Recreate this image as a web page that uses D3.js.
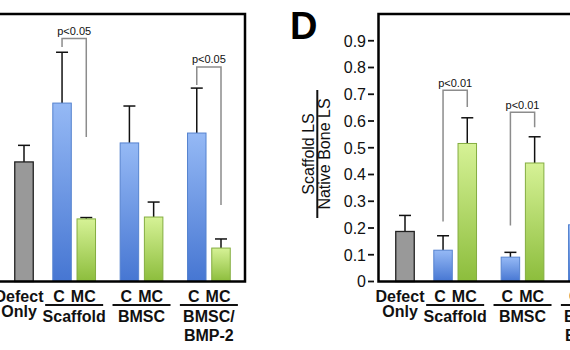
<!DOCTYPE html>
<html>
<head>
<meta charset="utf-8">
<script src="https://cdn.jsdelivr.net/npm/d3@7"></script>
<style>
  body { margin: 0; background: #fff; }
  svg { display: block; font-family: Arial, "Liberation Sans", Helvetica, sans-serif; }
</style>
</head>
<body>
<div id="chart"></div>
<script>
const groups = ["Scaffold", "BMSC", "BMSC/BMP-2"];
const subgroups = ["C", "MC"];

// left panel (its value axis is cropped off the picture)
const leftDefect = 0.447;
const leftDefectErr = 0.062;
const leftC = [0.667, 0.518, 0.555];
const leftCErr = [0.19, 0.138, 0.168];
const leftMC = [0.234, 0.241, 0.125];
const leftMCErr = [0.005, 0.056, 0.034];
const leftBrackets = [
  { group: "Scaffold", label: "p<0.05", top: 0.908, cEnd: 0.877, mcEnd: 0.54 },
  { group: "BMSC/BMP-2", label: "p<0.05", top: 0.802, cEnd: 0.735, mcEnd: 0.286 },
];

// panel D: Scaffold LS / Native Bone LS
const rightDefect = 0.187;
const rightDefectErr = 0.06;
const rightC = [0.117, 0.091, 0.212];
const rightCErr = [0.054, 0.018, 0.06];
const rightMC = [0.516, 0.443, 0.48];
const rightMCErr = [0.096, 0.098, 0.09];
const rightBrackets = [
  { group: "Scaffold", label: "p<0.01", top: 0.715, cEnd: 0.224, mcEnd: 0.652 },
  { group: "BMSC", label: "p<0.01", top: 0.633, cEnd: 0.209, mcEnd: 0.577 },
];

const yTicks = [0, 0.1, 0.2, 0.3, 0.4, 0.5, 0.6, 0.7, 0.8, 0.9];
const yTickLabels = ["0", "0.1", "0.2", "0.3", "0.4", "0.5", "0.6", "0.7", "0.8", "0.9"];

const W = 570, H = 350;
const DEFECT_GAP = 0.57; // extra space after the defect bar, in bar steps
const PAIR_GAP = 0.78; // extra space between C/MC pairs
const LAST_SLOT = 1 + DEFECT_GAP + 2 * (2 + PAIR_GAP) + 1;
const barW = 18.5;
const y = d3.scaleLinear().domain([0, 1]).range([281.5, 14]);

const svg = d3.select("#chart").append("svg").attr("width", W).attr("height", H);

const defs = svg.append("defs");
const grad = (id, top, bottom) => {
  const lg = defs.append("linearGradient").attr("id", id)
    .attr("x1", 0).attr("y1", 0).attr("x2", 0).attr("y2", 1);
  lg.append("stop").attr("offset", "0%").attr("stop-color", top);
  lg.append("stop").attr("offset", "100%").attr("stop-color", bottom);
};
grad("blueGrad", "#95b9f5", "#4676d2");
grad("greenGrad", "#d6f296", "#8cbd3c");

const fills = { defect: "#999", C: "url(#blueGrad)", MC: "url(#greenGrad)" };
const strokes = { defect: "#222", C: "#5683cf", MC: "#84ad40" };

const slotOf = (gi, si) => 1 + DEFECT_GAP + gi * (2 + PAIR_GAP) + si;

function drawPanel(cfg) {
  const x = d3.scaleLinear().domain([0, LAST_SLOT]).range(cfg.xRange);
  const g = svg.append("g");

  const bars = [{ type: "defect", slot: 0, value: cfg.defect, err: cfg.defectErr }].concat(
    groups.flatMap((grp, gi) =>
      subgroups.map((s, si) => ({
        type: s,
        group: grp,
        slot: slotOf(gi, si),
        value: si ? cfg.mc[gi] : cfg.c[gi],
        err: si ? cfg.mcErr[gi] : cfg.cErr[gi],
      }))
    )
  );

  // error bars (upper only)
  const eb = g.selectAll(".err").data(bars).enter().append("g").attr("class", "err")
    .attr("stroke", "#111").attr("stroke-width", 1.5);
  eb.append("line")
    .attr("x1", (d) => x(d.slot)).attr("x2", (d) => x(d.slot))
    .attr("y1", (d) => y(d.value)).attr("y2", (d) => y(d.value + d.err));
  eb.append("line")
    .attr("x1", (d) => x(d.slot) - 6).attr("x2", (d) => x(d.slot) + 6)
    .attr("y1", (d) => y(d.value + d.err)).attr("y2", (d) => y(d.value + d.err));

  g.selectAll(".bar").data(bars).enter().append("rect").attr("class", "bar")
    .attr("x", (d) => x(d.slot) - barW / 2)
    .attr("width", barW)
    .attr("y", (d) => y(d.value))
    .attr("height", (d) => y(0) - y(d.value))
    .attr("fill", (d) => fills[d.type])
    .attr("stroke", (d) => strokes[d.type])
    .attr("stroke-width", (d) => (d.type === "defect" ? 1.3 : 1));

  // significance brackets
  cfg.brackets.forEach((b) => {
    const gi = groups.indexOf(b.group);
    const xc = x(slotOf(gi, 0)), xm = x(slotOf(gi, 1));
    g.append("path")
      .attr("d", `M${xc},${y(b.cEnd)}V${y(b.top)}H${xm}V${y(b.mcEnd)}`)
      .attr("fill", "none").attr("stroke", "#8c8c8c").attr("stroke-width", 1.5);
    g.append("text")
      .attr("x", (xc + xm) / 2).attr("y", y(b.top) - 3.5)
      .attr("text-anchor", "middle").attr("font-size", "11px")
      .attr("fill", "#111")
      .text(b.label);
  });

  // category labels
  const lab = g.append("g").attr("font-weight", "bold").attr("font-size", "16px")
    .attr("fill", "#111").attr("text-anchor", "middle");
  lab.append("text").attr("x", x(0) - 5).attr("y", 301.5).text("Defect");
  lab.append("text").attr("x", x(0) - 5).attr("y", 317).text("Only");
  bars.filter((d) => d.type !== "defect").forEach((d) => {
    lab.append("text").attr("x", x(d.slot) - 3).attr("y", 301.5).text(d.type);
  });
  groups.forEach((grp, gi) => {
    const mid = (x(slotOf(gi, 0)) + x(slotOf(gi, 1))) / 2;
    g.append("line").attr("x1", mid - 29).attr("x2", mid + 29)
      .attr("y1", 305).attr("y2", 305).attr("stroke", "#111").attr("stroke-width", 2);
    const lines = grp.includes("/") ? [grp.split("/")[0] + "/", grp.split("/")[1]] : [grp];
    lines.forEach((t, li) => {
      lab.append("text").attr("x", mid).attr("y", 321.5 + li * 19.5).text(t);
    });
  });
  return x;
}

drawPanel({
  xRange: [24, 221],
  defect: leftDefect, defectErr: leftDefectErr,
  c: leftC, cErr: leftCErr, mc: leftMC, mcErr: leftMCErr,
  brackets: leftBrackets,
});

drawPanel({
  xRange: [405, 602],
  defect: rightDefect, defectErr: rightDefectErr,
  c: rightC, cErr: rightCErr, mc: rightMC, mcErr: rightMCErr,
  brackets: rightBrackets,
});

// frames
svg.append("path")
  .attr("d", `M-5,${y(1)}H245V${y(0)}H-5`)
  .attr("fill", "none").attr("stroke", "#000").attr("stroke-width", 2.5);
svg.append("path")
  .attr("d", `M${W + 5},${y(1)}H378.5V${y(0)}H${W + 5}`)
  .attr("fill", "none").attr("stroke", "#000").attr("stroke-width", 2.5);

// panel D value axis
const axis = svg.append("g");
axis.selectAll(".tick").data(yTicks).enter().append("line")
  .attr("x1", 368).attr("x2", 374)
  .attr("y1", (d) => y(d)).attr("y2", (d) => y(d))
  .attr("stroke", "#111").attr("stroke-width", 1.8);
axis.selectAll(".tlabel").data(yTicks).enter().append("text")
  .attr("x", 366).attr("y", (d) => y(d) + 5.8)
  .attr("text-anchor", "end").attr("font-size", "16px").attr("fill", "#111")
  .text((d, i) => yTickLabels[i]);

// fraction-style axis title
const title = svg.append("g").attr("transform", "translate(0,154)")
  .attr("font-size", "16px").attr("fill", "#111").attr("text-anchor", "middle");
title.append("text").attr("transform", "translate(313.5,0) rotate(-90)").text("Scaffold LS");
title.append("line").attr("x1", 317.3).attr("x2", 317.3).attr("y1", -64).attr("y2", 64)
  .attr("stroke", "#111").attr("stroke-width", 2);
title.append("text").attr("transform", "translate(330,0) rotate(-90)").text("Native Bone LS");

svg.append("text").attr("x", 290).attr("y", 39)
  .attr("font-size", "38px").attr("font-weight", "bold").attr("fill", "#000")
  .text("D");
</script>
</body>
</html>
